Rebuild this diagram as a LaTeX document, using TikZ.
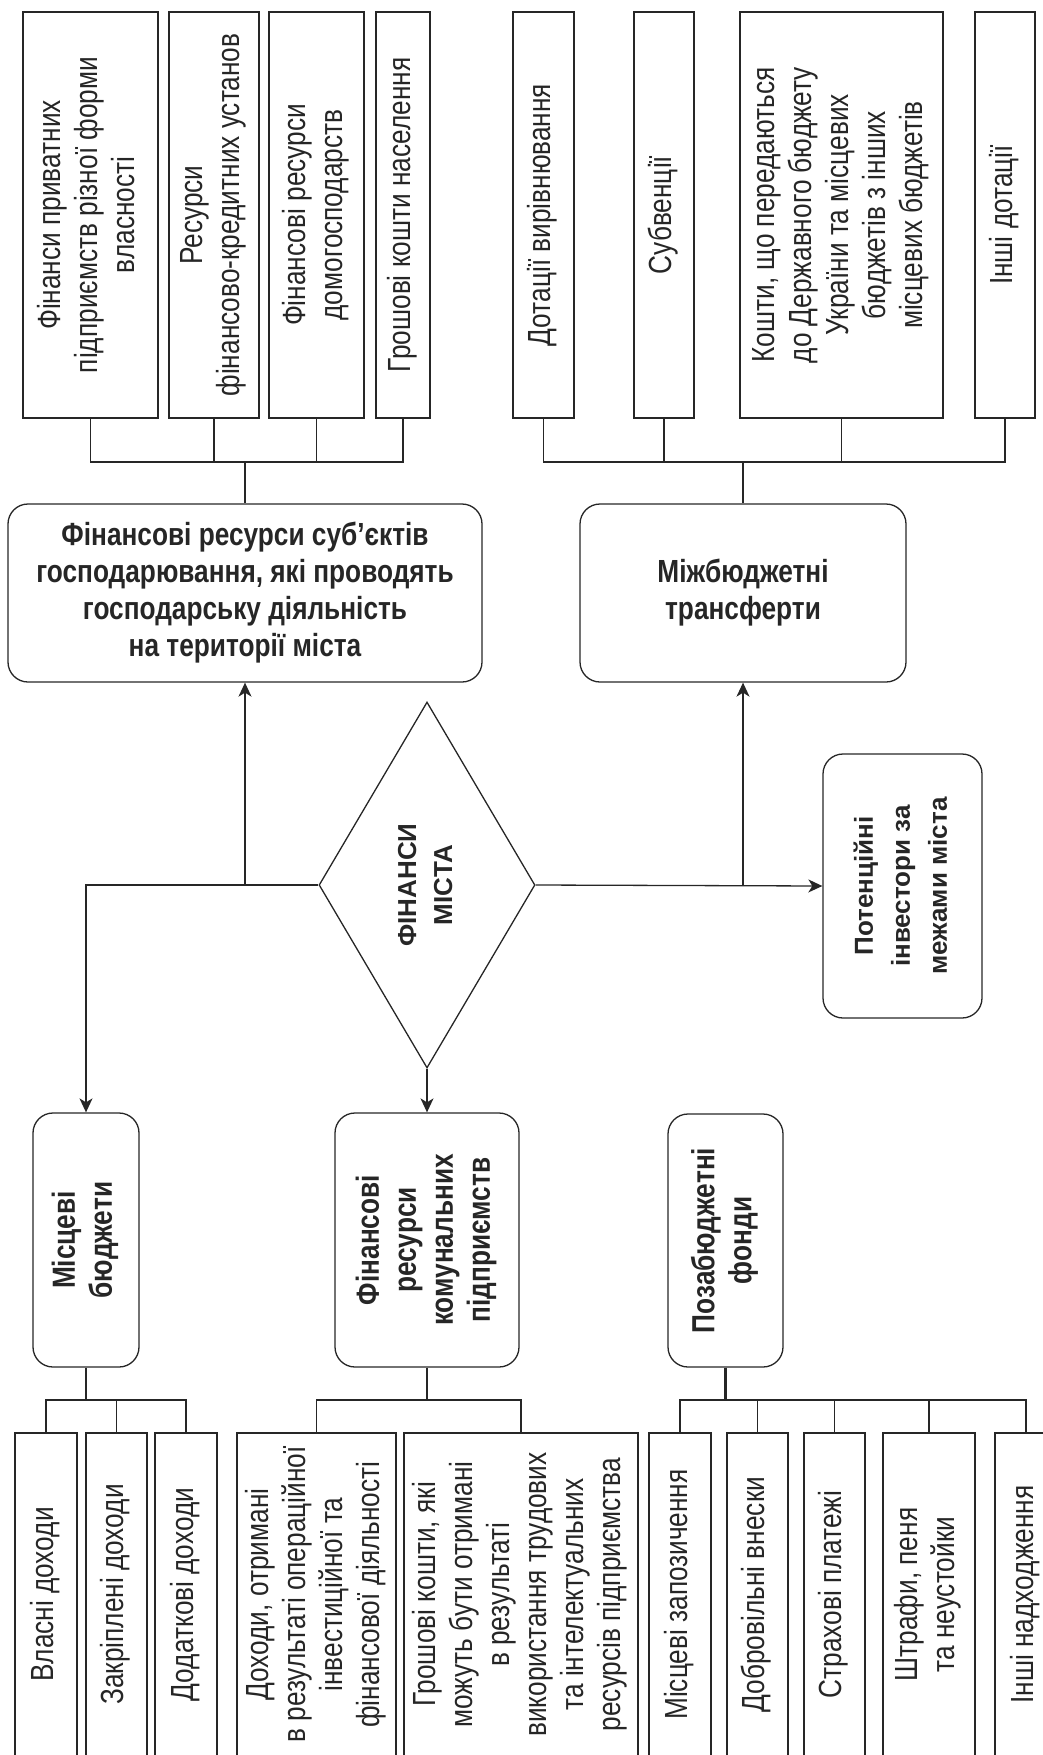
\documentclass[tikz,border=0pt]{standalone}
\usepackage{fontspec}
\usepackage{graphicx}
\newfontfamily\narrowfont{Liberation Sans}[FakeStretch=0.82]
\newfontfamily\widefont{Liberation Sans}
\usetikzlibrary{arrows.meta,shapes.geometric}
\newcommand{\uptext}[1]{\rotatebox{90}{\begin{tabular}{@{}c@{}}#1\end{tabular}}}

\begin{document}
\begin{tikzpicture}[x=1pt,y=1pt,line width=1.3pt,color=black!85,
  >={Stealth[length=14pt,width=13pt,inset=4pt]},
  leaf/.style={rectangle,draw,inner sep=0pt,
    font=\narrowfont\fontsize{32pt}{37pt}\selectfont},
  hub/.style={rectangle,rounded corners=20pt,draw,inner sep=0pt,
    font=\narrowfont\bfseries\fontsize{32pt}{37pt}\selectfont},
  core/.style={diamond,draw,inner sep=0pt,
    font=\widefont\bfseries\fontsize{26pt}{36pt}\selectfont}]

  \useasboundingbox (0,0) rectangle (1043,-1755);
  \clip (0,0) rectangle (1043,-1755);

  % upper row
  \node[leaf,minimum width=135pt,minimum height=406pt] (t1) at (90.5,-215)
    {\uptext{Фінанси приватних\\підприємств різної форми\\власності}};
  \node[leaf,minimum width=90pt,minimum height=406pt]  (t2) at (214,-215)
    {\uptext{Ресурси\\фінансово-кредитних установ}};
  \node[leaf,minimum width=95pt,minimum height=406pt]  (t3) at (316.5,-215)
    {\uptext{Фінансові ресурси\\домогосподарств}};
  \node[leaf,minimum width=54pt,minimum height=406pt]  (t4) at (403,-215)
    {\uptext{Грошові кошти населення}};
  \node[leaf,minimum width=61pt,minimum height=406pt]  (t5) at (543.5,-215)
    {\uptext{Дотації вирівнювання}};
  \node[leaf,minimum width=60pt,minimum height=406pt]  (t6) at (664,-215)
    {\uptext{Субвенції}};
  \node[leaf,minimum width=203pt,minimum height=406pt] (t7) at (841.5,-215)
    {\uptext{Кошти, що передаються\\до Державного бюджету\\України та місцевих\\бюджетів з інших\\місцевих бюджетів}};
  \node[leaf,minimum width=60pt,minimum height=406pt]  (t8) at (1005,-215)
    {\uptext{Інші дотації}};

  % middle
  \node[hub,minimum width=474pt,minimum height=178pt,align=center] (fin) at (245,-593)
    {Фінансові ресурси суб’єктів\\господарювання, які проводять\\господарську діяльність\\на території міста};
  \node[hub,minimum width=326pt,minimum height=178pt,align=center] (mbt) at (743,-593)
    {Міжбюджетні\\трансферти};
  \node[core,minimum width=216pt,minimum height=366pt] (dia) at (427,-885)
    {\uptext{ФІНАНСИ\\МІСТА}};
  \node[hub,font=\widefont\bfseries\fontsize{26pt}{37pt}\selectfont,
    minimum width=159pt,minimum height=264pt] (pot) at (902.5,-886)
    {\uptext{Потенційні\\інвестори за\\межами міста}};

  \node[hub,minimum width=106pt,minimum height=254pt] (mb)  at (86,-1240)
    {\uptext{Місцеві\\бюджети}};
  \node[hub,minimum width=184pt,minimum height=254pt] (kom) at (427,-1240)
    {\uptext{Фінансові\\ресурси\\комунальних\\підприємств}};
  \node[hub,minimum width=115pt,minimum height=253pt] (poz) at (725.5,-1240.5)
    {\uptext{Позабюджетні\\фонди}};

  % lower row
  \node[leaf,minimum width=62pt,minimum height=323pt]  (b1) at (46,-1594.5)
    {\uptext{Власні доходи}};
  \node[leaf,minimum width=61pt,minimum height=323pt]  (b2) at (116.5,-1594.5)
    {\uptext{Закріплені доходи}};
  \node[leaf,minimum width=62pt,minimum height=323pt]  (b3) at (186,-1594.5)
    {\uptext{Додаткові доходи}};
  \node[leaf,minimum width=159pt,minimum height=323pt] (k1) at (316.5,-1594.5)
    {\uptext{Доходи, отримані\\в результаті операційної\\інвестиційної та\\фінансової діяльності}};
  \node[leaf,minimum width=234pt,minimum height=323pt] (k2) at (521,-1594.5)
    {\uptext{Грошові кошти, які\\можуть бути отримані\\в результаті\\використання трудових\\та інтелектуальних\\ресурсів підприємства}};
  \node[leaf,minimum width=62pt,minimum height=323pt]  (p1) at (680,-1594.5)
    {\uptext{Місцеві запозичення}};
  \node[leaf,minimum width=61pt,minimum height=323pt]  (p2) at (757.5,-1594.5)
    {\uptext{Добровільні внески}};
  \node[leaf,minimum width=61pt,minimum height=323pt]  (p3) at (834.5,-1594.5)
    {\uptext{Страхові платежі}};
  \node[leaf,minimum width=92pt,minimum height=323pt]  (p4) at (929,-1594.5)
    {\uptext{Штрафи, пеня\\та неустойки}};
  \node[leaf,minimum width=62pt,minimum height=323pt]  (p5) at (1026,-1594.5)
    {\uptext{Інші надходження}};

  % joints of the trees
  \coordinate (jfin) at (fin.north |- 0,-462);
  \coordinate (jmbt) at (mbt.north |- 0,-462);
  \coordinate (jmb)  at (mb.south  |- 0,-1400);
  \coordinate (jkom) at (kom.south |- 0,-1400);
  \coordinate (jpoz) at (poz.south |- 0,-1400);

  \draw (t1.south) |- (jfin) -| (t4.south);
  \draw (t2.south) -- (t2.south |- jfin);
  \draw (t3.south) -- (t3.south |- jfin);
  \draw (jfin) -- (fin.north);

  \draw (t5.south) |- (jmbt) -| (t8.south);
  \draw (t6.south) -- (t6.south |- jmbt);
  \draw (t7.south) -- (t7.south |- jmbt);
  \draw (jmbt) -- (mbt.north);

  \draw[->] (dia.west) -| (mb.north);
  \draw[->] (fin.south |- dia.west) -- (fin.south);
  \draw[->] (dia.east) -- (pot.west);
  \draw[->] (mbt.south |- dia.east) -- (mbt.south);
  \draw[->] (dia.south) -- (kom.north);

  \draw (mb.south) -- (jmb);
  \draw (b1.north) |- (jmb) -| (b3.north);
  \draw (b2.north) -- (b2.north |- jmb);

  \draw (kom.south) -- (jkom);
  \draw (k1.north) |- (jkom) -| (k2.north);

  \draw[line width=2.2pt] (poz.south) -- (jpoz);
  \draw (p1.north) |- (jpoz) -| (p5.north);
  \draw (p2.north) -- (p2.north |- jpoz);
  \draw (p3.north) -- (p3.north |- jpoz);
  \draw (p4.north) -- (p4.north |- jpoz);

\end{tikzpicture}
\end{document}
